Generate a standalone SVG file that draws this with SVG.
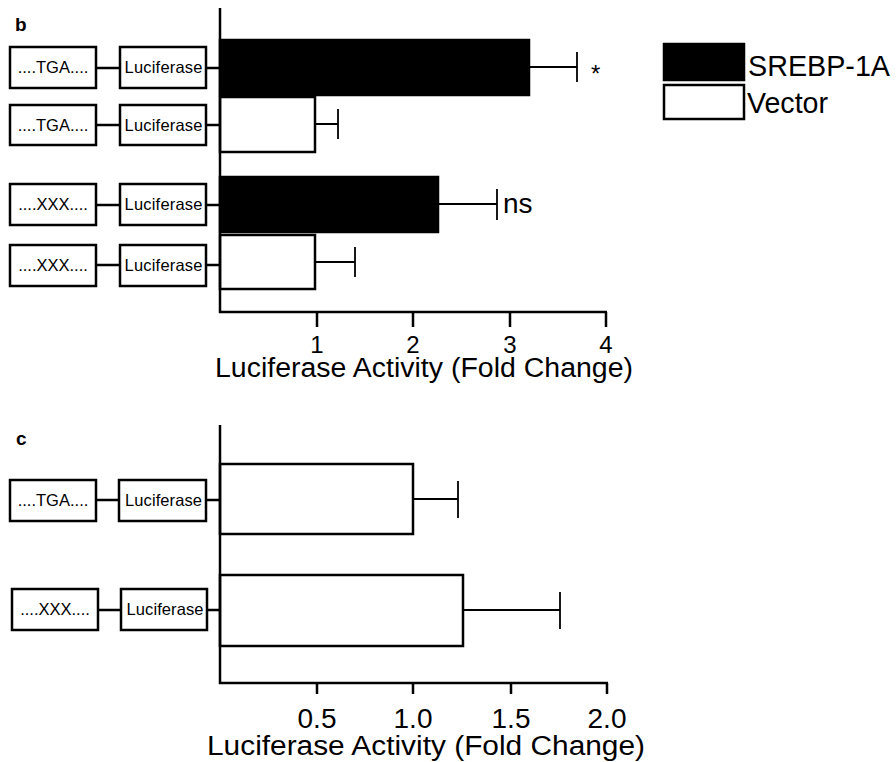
<svg xmlns="http://www.w3.org/2000/svg" width="896" height="762" viewBox="0 0 896 762">
<style>
text{font-family:"Liberation Sans",Arial,sans-serif;fill:#000}
.box{fill:#fff;stroke:#000;stroke-width:2.5}
.bk{fill:#000;stroke:#000;stroke-width:2.5}
.wh{fill:#fff;stroke:#000;stroke-width:2.5}
.ax{stroke:#000;stroke-width:2.5;fill:none}
.eb{stroke:#000;stroke-width:1.8;fill:none}
.lbl{font-size:16.5px;text-anchor:middle}
.tick{font-size:24px;text-anchor:middle}
.tickc{font-size:28px;text-anchor:middle}
.ttl{font-size:27px;text-anchor:middle}
.pl{font-size:19px;font-weight:bold}
</style>
<rect width="896" height="762" fill="#fff"/>

<text class="pl" x="15" y="31">b</text>
<text class="pl" x="16" y="445">c</text>

<!-- Panel b constructs -->
<g id="b-row1">
  <rect class="box" x="10" y="47" width="86" height="41"/>
  <text class="lbl" x="53" y="73">....TGA....</text>
  <rect class="box" x="120" y="47" width="86" height="41"/>
  <text class="lbl" x="163.5" y="73" textLength="78">Luciferase</text>
</g>
<g id="b-row2">
  <rect class="box" x="10" y="105" width="86" height="40"/>
  <text class="lbl" x="53" y="131">....TGA....</text>
  <rect class="box" x="120" y="105" width="86" height="40"/>
  <text class="lbl" x="163.5" y="131" textLength="78">Luciferase</text>
</g>
<g id="b-row3">
  <rect class="box" x="10" y="184" width="86" height="41"/>
  <text class="lbl" x="53" y="210">....XXX....</text>
  <rect class="box" x="120" y="184" width="86" height="41"/>
  <text class="lbl" x="163.5" y="210" textLength="78">Luciferase</text>
</g>
<g id="b-row4">
  <rect class="box" x="10" y="245" width="86" height="41"/>
  <text class="lbl" x="53" y="271">....XXX....</text>
  <rect class="box" x="120" y="245" width="86" height="41"/>
  <text class="lbl" x="163.5" y="271" textLength="78">Luciferase</text>
</g>

<!-- Panel c constructs -->
<g id="c-row1">
  <rect class="box" x="10" y="480" width="86" height="41"/>
  <text class="lbl" x="53" y="506">....TGA....</text>
  <rect class="box" x="119" y="480" width="87" height="41"/>
  <text class="lbl" x="163.5" y="506" textLength="77">Luciferase</text>
</g>
<g id="c-row2">
  <rect class="box" x="12" y="589" width="86" height="41"/>
  <text class="lbl" x="55" y="615">....XXX....</text>
  <rect class="box" x="121" y="589" width="86" height="41"/>
  <text class="lbl" x="165" y="615" textLength="77">Luciferase</text>
</g>

<g id="connectors">
  <path class="ax" d="M96 68H120M206 68H220M96 125H120M206 125H220M96 205H120M206 205H220M96 265H120M206 265H220"/>
  <path class="ax" d="M96 500H119M206 500H220M98 610H121M207 610H220"/>
</g>

<!-- Panel b chart -->
<g id="b-chart">
  <rect class="bk" x="220" y="40" width="309" height="55"/>
  <path class="eb" d="M529 67H577M577 52V82"/>
  <rect class="wh" x="220" y="97" width="95" height="55"/>
  <path class="eb" d="M315 124H338M338 109V139"/>
  <rect class="bk" x="220" y="177" width="218" height="55"/>
  <path class="eb" d="M438 204H497M497 189V220"/>
  <rect class="wh" x="220" y="235" width="95" height="54"/>
  <path class="eb" d="M315 262H355M355 247V277"/>
  <path class="ax" d="M220 8V312H607M317 312V327M413 312V327M510 312V327M606 312V327"/>
  <text x="591" y="82" style="font-size:24px">*</text>
  <text x="503" y="213" style="font-size:28px">ns</text>
  <text class="tick" x="317" y="353">1</text>
  <text class="tick" x="413" y="353">2</text>
  <text class="tick" x="510" y="353">3</text>
  <text class="tick" x="606" y="353">4</text>
  <text class="ttl" x="424" y="377" textLength="418" lengthAdjust="spacingAndGlyphs">Luciferase Activity (Fold Change)</text>
</g>

<g id="legend">
  <rect class="bk" x="664" y="44" width="80" height="36"/>
  <rect class="wh" x="664" y="85" width="80" height="34"/>
  <text x="748" y="76" style="font-size:30px" textLength="142" lengthAdjust="spacingAndGlyphs">SREBP-1A</text>
  <text x="747" y="113" style="font-size:30px" textLength="81" lengthAdjust="spacingAndGlyphs">Vector</text>
</g>

<!-- Panel c chart -->
<g id="c-chart">
  <rect class="wh" x="220" y="464" width="193" height="70"/>
  <path class="eb" d="M413 499H458M458 481V518"/>
  <rect class="wh" x="220" y="575" width="243" height="71"/>
  <path class="eb" d="M463 610H560M560 592V629"/>
  <path class="ax" d="M220 425V683H608M317 683V694M413 683V694M511 683V694M607 683V694"/>
  <text class="tickc" x="317" y="728">0.5</text>
  <text class="tickc" x="413" y="728">1.0</text>
  <text class="tickc" x="511" y="728">1.5</text>
  <text class="tickc" x="607" y="728">2.0</text>
  <text class="ttl" x="426" y="755" textLength="438" lengthAdjust="spacingAndGlyphs">Luciferase Activity (Fold Change)</text>
</g>
</svg>
